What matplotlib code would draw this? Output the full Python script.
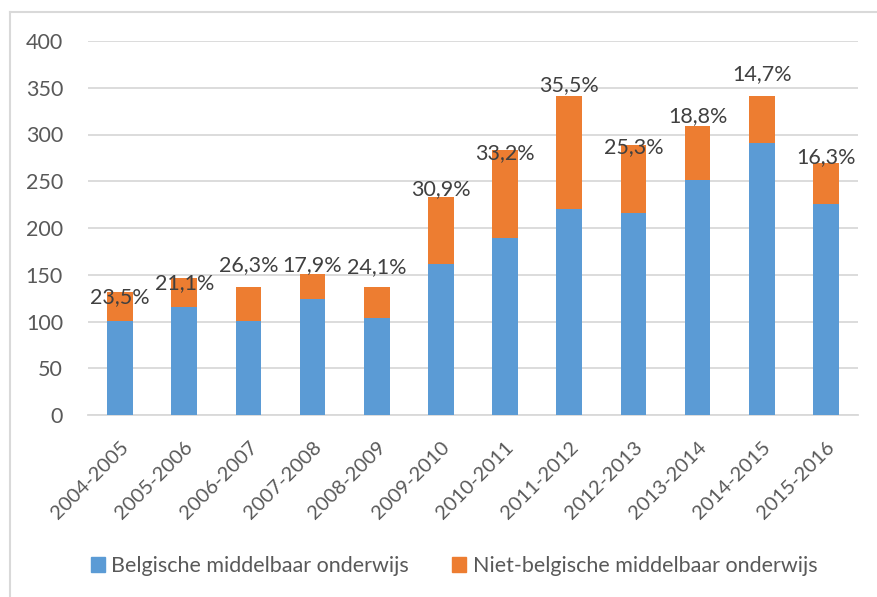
import matplotlib
matplotlib.use("Agg")
import matplotlib.pyplot as plt
from matplotlib.lines import Line2D
from matplotlib.patches import Patch
import numpy as np

# data
years = ["2004-2005", "2005-2006", "2006-2007", "2007-2008", "2008-2009", "2009-2010",
         "2010-2011", "2011-2012", "2012-2013", "2013-2014", "2014-2015", "2015-2016"]
belgisch = [101, 116, 101, 124, 104, 161, 189, 220, 216, 251, 291, 226]
niet_belgisch = [31, 31, 36, 27, 33, 72, 94, 121, 73, 58, 50, 44]
pct_labels = ["23,5%", "21,1%", "26,3%", "17,9%", "24,1%", "30,9%",
              "33,2%", "35,5%", "25,3%", "18,8%", "14,7%", "16,3%"]

# vertical nudge of each percentage label (points), as placed in the original
label_dy = [-4, -4, 16, 6, 14, 6, -2, 8, -2, 7, 16, 4]

BLUE = "#5B9BD5"
ORANGE = "#ED7D31"
TXT = "#595959"
GRID = "#D9D9D9"

plt.rcParams["font.family"] = ["Lato", "DejaVu Sans"]

fig = plt.figure(figsize=(8.77, 5.97), dpi=100)
ax = fig.add_axes([88 / 877, 1 - 415 / 597, 770 / 877, 374 / 597])

x = np.arange(len(years))
w = 0.4
ax.bar(x, belgisch, w, color=BLUE, zorder=3)
ax.bar(x, niet_belgisch, w, bottom=belgisch, color=ORANGE, zorder=3)

totals = np.array(belgisch) + np.array(niet_belgisch)
for xi, t, lab, dy in zip(x, totals, pct_labels, label_dy):
    ax.annotate(lab, (xi, t), xytext=(0, dy), textcoords="offset points",
                ha="center", va="center", fontsize=15.5, color="#404040", zorder=4)

ax.set_xlim(-0.5, len(years) - 0.5)
ax.set_ylim(0, 400)
ax.set_yticks(range(0, 401, 50))
ax.yaxis.grid(True, color=GRID, linewidth=1.3, zorder=0)
ax.tick_params(axis="y", length=0, labelsize=15.5, labelcolor=TXT, pad=18)
ax.tick_params(axis="x", length=0, labelsize=14.5, labelcolor=TXT, pad=17)
ax.set_xticks(x)
ax.set_xticklabels(years, rotation=45, ha="right", rotation_mode="anchor")
for s in ["top", "right", "left"]:
    ax.spines[s].set_visible(False)
ax.spines["bottom"].set_color(GRID)
ax.spines["bottom"].set_linewidth(1.3)

handles = [Patch(color=BLUE, label="Belgische middelbaar onderwijs"),
           Patch(color=ORANGE, label="Niet-belgische middelbaar onderwijs")]
fig.legend(handles=handles, loc="center", bbox_to_anchor=(454 / 877, 1 - 566 / 597),
           ncol=2, frameon=False, fontsize=15.5, handlelength=0.65, handleheight=0.65,
           handletextpad=0.3, columnspacing=2.0, labelcolor=TXT)

# frame of the chart area (left and top edge visible in the screenshot)
fig.add_artist(Line2D([10 / 877, 10 / 877], [0, 1 - 12 / 597], color=GRID, lw=1.5,
                      transform=fig.transFigure))
fig.add_artist(Line2D([10 / 877, 1], [1 - 12 / 597, 1 - 12 / 597], color=GRID, lw=1.5,
                      transform=fig.transFigure))

fig.savefig("out.png", dpi=100)
